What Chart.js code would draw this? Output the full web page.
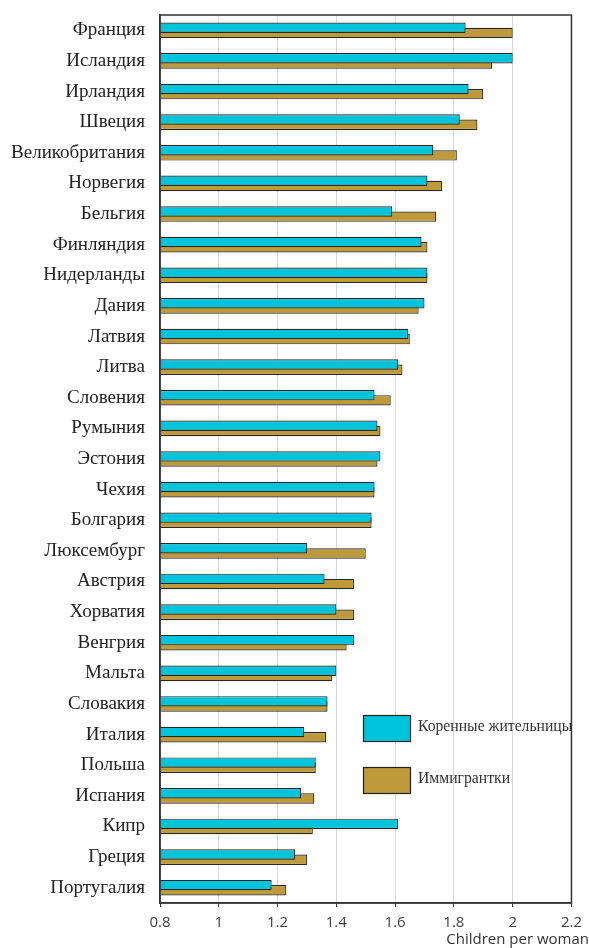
<!DOCTYPE html>
<html>
<head>
<meta charset="utf-8">
<script src="https://cdn.jsdelivr.net/npm/chart.js@4"></script>
<style>
    body { margin: 0; background: #fff; }
    #wrap { width: 589px; height: 948px; }
</style>
</head>
<body>
<div id="wrap"><canvas id="barChart"></canvas></div>
<script>
const categories = ['Франция','Исландия','Ирландия','Швеция','Великобритания','Норвегия','Бельгия','Финляндия','Нидерланды','Дания','Латвия','Литва','Словения','Румыния','Эстония','Чехия','Болгария','Люксембург','Австрия','Хорватия','Венгрия','Мальта','Словакия','Италия','Польша','Испания','Кипр','Греция','Португалия'];
const nativeWomen = [1.84, 2.00, 1.85, 1.82, 1.73, 1.71, 1.59, 1.69, 1.71, 1.70, 1.645, 1.61, 1.53, 1.54, 1.55, 1.53, 1.52, 1.30, 1.36, 1.40, 1.46, 1.40, 1.37, 1.29, 1.33, 1.28, 1.61, 1.26, 1.18];
const immigrantWomen = [2.00, 1.93, 1.90, 1.88, 1.81, 1.76, 1.74, 1.71, 1.71, 1.68, 1.65, 1.625, 1.585, 1.55, 1.54, 1.53, 1.52, 1.50, 1.46, 1.46, 1.435, 1.385, 1.37, 1.365, 1.33, 1.325, 1.32, 1.30, 1.23];
const xTicks = [0.8, 1, 1.2, 1.4, 1.6, 1.8, 2, 2.2];
const seriesNames = ['Коренные жительницы', 'Иммигрантки'];
const axisTitle = 'Children per woman';

// legend boxes sit inside the plot, plus the border and the axis title
const extras = {
    id: 'extras',
    afterDraw(chart) {
        const ctx = chart.ctx;
        const a = chart.chartArea;
        ctx.save();
        ctx.strokeStyle = '#333';
        ctx.lineWidth = 1.5;
        ctx.strokeRect(a.left, a.top, a.right - a.left, a.bottom - a.top);

        chart.data.datasets.forEach((ds, i) => {
            const y = 715 + i * 52;
            ctx.fillStyle = ds.backgroundColor;
            ctx.fillRect(363, y, 47, 26);
            ctx.strokeStyle = '#222';
            ctx.lineWidth = 1.2;
            ctx.strokeRect(363.5, y + 0.5, 47, 26);
            ctx.fillStyle = '#333';
            ctx.font = '15.7px "Liberation Serif"';
            ctx.textBaseline = 'middle';
            ctx.textAlign = 'left';
            ctx.fillText(ds.label, 418, y + 12);
        });

        ctx.fillStyle = '#333';
        ctx.font = '15px "Open Sans"';
        ctx.textAlign = 'right';
        ctx.textBaseline = 'middle';
        ctx.fillText(axisTitle, 589, 940);
        ctx.restore();
    }
};

const bar = document.getElementById('barChart');

new Chart(bar, {
    type: 'bar',
    data: {
        labels: categories,
        datasets: [{
            label: seriesNames[0],
            data: nativeWomen,
            backgroundColor: '#00c4dc',
            borderColor: '#262626',
            borderWidth: 1.2,
            categoryPercentage: 0.34,
            barPercentage: 2,
        }, {
            label: seriesNames[1],
            data: immigrantWomen,
            backgroundColor: '#bf9a3a',
            borderColor: '#262626',
            borderWidth: 1.2,
            categoryPercentage: 0.34,
            barPercentage: 2,
        }]
    },
    plugins: [extras],
    options: {
        indexAxis: 'y',
        responsive: true,
        maintainAspectRatio: false,
        animation: false,
        layout: {
            padding: { top: 15, right: 16, left: 0, bottom: 0 }
        },
        plugins: {
            legend: { display: false },
            tooltip: { enabled: false },
        },
        scales: {
            x: {
                min: 0.8,
                max: 2.2,
                afterBuildTicks: (scale) => {
                    scale.ticks = xTicks.map(v => ({ value: v }));
                },
                afterFit: (scale) => {
                    scale.height = 45;
                },
                ticks: {
                    color: '#404040',
                    font: { family: 'Open Sans', size: 15 },
                    padding: 7,
                    maxRotation: 0,
                    callback: (v) => String(v),
                },
                grid: {
                    color: '#d9d9d9',
                    lineWidth: 1,
                    tickColor: '#333',
                    tickLength: 4,
                },
                border: {
                    display: true,
                    color: '#333',
                    width: 1.5,
                },
            },
            y: {
                afterFit: (scale) => {
                    scale.width = 160;
                    scale.paddingTop = 0;
                    scale.paddingBottom = 0;
                },
                ticks: {
                    color: '#222',
                    font: { family: 'Liberation Serif', size: 19 },
                    padding: 15,
                    autoSkip: false,
                },
                grid: {
                    display: false,
                    drawTicks: false,
                },
                border: {
                    display: true,
                    color: '#333',
                    width: 1.5,
                },
            }
        }
    }
});
</script>
</body>
</html>
